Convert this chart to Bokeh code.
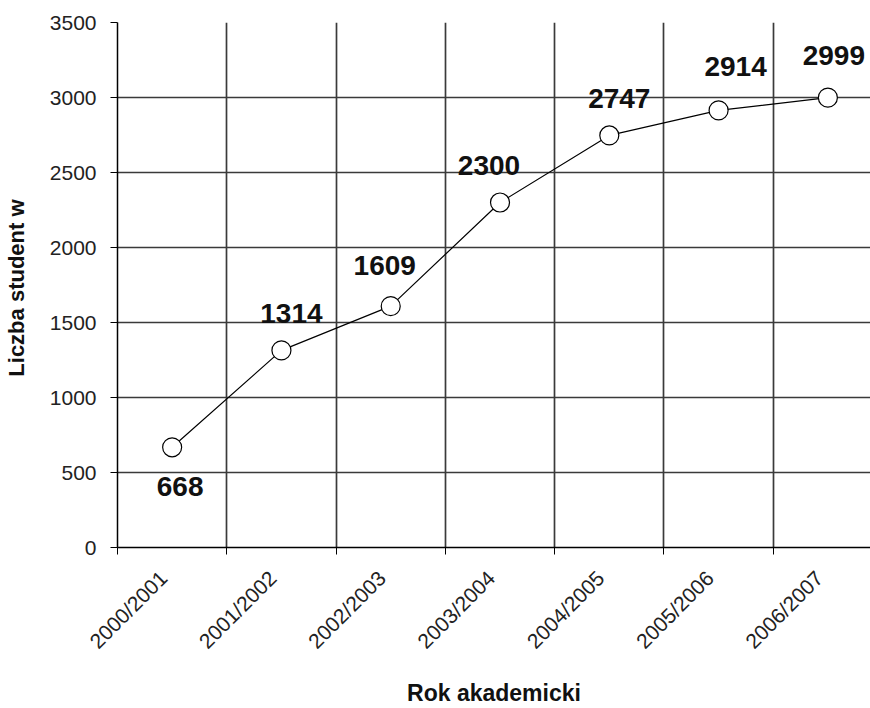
import math
from bokeh.plotting import figure
from bokeh.models import Range1d, FixedTicker, ColumnDataSource, LabelSet
from bokeh.core.properties import value
from bokeh.embed import file_html
from bokeh.resources import INLINE

# ---- data ----
years = ["2000/2001", "2001/2002", "2002/2003", "2003/2004",
         "2004/2005", "2005/2006", "2006/2007"]
students = [668, 1314, 1609, 2300, 2747, 2914, 2999]
y_ticks = [0, 500, 1000, 1500, 2000, 2500, 3000, 3500]

# ---- styling (label placement offsets, px) ----
label_dx = [8, 10, -6, -11, 10, 17, 6]
label_dy = [-39, 37, 41, 37, 37, 44, 42]
tick_label_shift = -0.08  # category-label anchor shift (in category units)

FONT = "Liberation Sans"

xs = [i + 0.5 for i in range(len(years))]
label_ticks = [x + tick_label_shift for x in xs]
bounds = list(range(len(years) + 1))

p = figure(width=870, height=708, output_backend="svg", toolbar_location=None,
           x_range=Range1d(0, 6.89), y_range=Range1d(0, 3500),
           min_border_left=117, min_border_right=0, min_border_top=22,
           min_border_bottom=160)
p.background_fill_color = "white"
p.border_fill_color = "white"
p.outline_line_color = None

# y axis
p.yaxis.ticker = FixedTicker(ticks=y_ticks)
p.yaxis.axis_line_color = "black"
p.yaxis.axis_line_width = 1.5
p.yaxis.major_tick_out = 7
p.yaxis.major_tick_in = 0
p.yaxis.major_tick_line_color = "black"
p.yaxis.minor_tick_line_color = None
p.yaxis.major_label_text_font = FONT
p.yaxis.major_label_text_font_size = "21px"
p.yaxis.major_label_text_color = "#222222"
p.yaxis.major_label_standoff = 14
p.yaxis.axis_label = "Liczba student  w"
p.yaxis.axis_label_text_font = FONT
p.yaxis.axis_label_text_font_style = "bold"
p.yaxis.axis_label_text_font_size = "22px"
p.yaxis.axis_label_text_color = "#111111"
p.yaxis.axis_label_standoff = 18

# x axis
p.xaxis.ticker = FixedTicker(ticks=label_ticks, minor_ticks=bounds)
p.xaxis.major_label_overrides = {x: y for x, y in zip(label_ticks, years)}
p.xaxis.major_tick_line_color = None
p.xaxis.minor_tick_line_color = "black"
p.xaxis.minor_tick_out = 7
p.xaxis.minor_tick_in = 0
p.xaxis.axis_line_color = "black"
p.xaxis.axis_line_width = 1.5
p.xaxis.major_label_orientation = math.pi / 4
p.xaxis.major_label_text_font = FONT
p.xaxis.major_label_text_font_size = "21px"
p.xaxis.major_label_text_color = "#222222"
p.xaxis.major_label_standoff = 20
p.xaxis.axis_label = "Rok akademicki"
p.xaxis.axis_label_text_font = FONT
p.xaxis.axis_label_text_font_style = "bold"
p.xaxis.axis_label_text_font_size = "23px"
p.xaxis.axis_label_text_color = "#111111"
p.xaxis.axis_label_standoff = 16

# grids
p.xgrid.ticker = FixedTicker(ticks=bounds[1:])
p.xgrid.grid_line_color = "#3a3a3a"
p.xgrid.grid_line_width = 1.7
p.ygrid.ticker = FixedTicker(ticks=y_ticks[1:])
p.ygrid.grid_line_color = "#3a3a3a"
p.ygrid.grid_line_width = 1.7

# series
p.line(xs, students, line_color="black", line_width=1.2)
p.scatter(xs, students, size=19, fill_color="white", line_color="black",
          line_width=1.2)

src = ColumnDataSource(dict(x=xs, y=students, t=[str(v) for v in students],
                            dx=label_dx, dy=label_dy))
labels = LabelSet(x="x", y="y", text="t", source=src, x_offset="dx", y_offset="dy",
                  text_align="center", text_baseline="middle",
                  text_font=value(FONT), text_font_size="28px",
                  text_font_style="bold", text_color="#111111")
p.add_layout(labels)

open("out.html", "w").write(file_html(p, INLINE))
